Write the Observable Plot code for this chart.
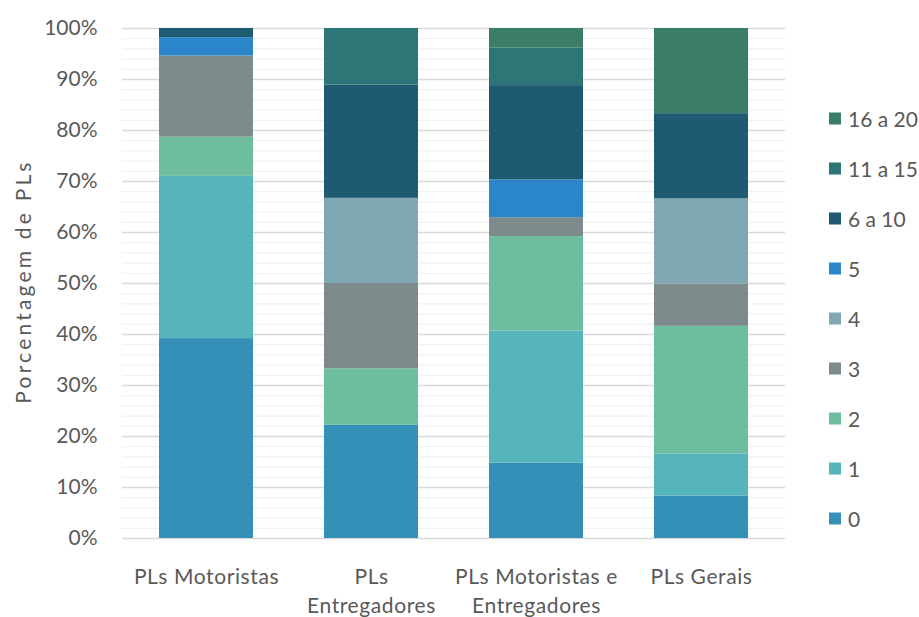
<!DOCTYPE html>
<html>
<head>
<meta charset="utf-8">
<script src="https://cdn.jsdelivr.net/npm/d3@7"></script>
<script src="https://cdn.jsdelivr.net/npm/@observablehq/plot@0.6"></script>
<style>
  body { margin: 0; background: #fff; }
  #wrap { position: relative; width: 919px; height: 617px; font-family: Lato, "Open Sans", sans-serif; }
  #legend { position: absolute; left: 829px; top: 0; }
  .item { position: absolute; left: 0; display: flex; align-items: center; white-space: nowrap; color: #595959; font-size: 21px; transform: translateY(-50%); }
  .sw { width: 12px; height: 12px; margin-right: 7px; }
  #wrap svg g[aria-label="text"] text { letter-spacing: 3.2px; }
  #wrap svg g[aria-label="x-axis tick label"] text { letter-spacing: 0.6px; }
</style>
</head>
<body>
<div id="wrap"><div id="legend"></div></div>
<script>
const categories = ["PLs Motoristas", "PLs Entregadores", "PLs Motoristas e Entregadores", "PLs Gerais"];
const tickLabels = ["PLs Motoristas", "PLs\nEntregadores", "PLs Motoristas e\nEntregadores", "PLs Gerais"];
const seriesNames = ["0", "1", "2", "3", "4", "5", "6 a 10", "11 a 15", "16 a 20"];
const seriesColors = ["#3590b8", "#56b4bd", "#6fbd9f", "#7e8b8c", "#80a8b3", "#2a86c8", "#1f5a73", "#2e7577", "#3c7d68"];
// percentage of PLs per category, in seriesNames order
const plsMotoristas = [39.2, 31.8, 7.7, 15.9, 0, 3.6, 1.8, 0, 0];
const plsEntregadores = [22.2, 0, 11.1, 16.7, 16.7, 0, 22.2, 11.1, 0];
const plsMotoristasEntregadores = [14.8, 25.9, 18.5, 3.7, 0, 7.4, 18.5, 7.4, 3.8];
const plsGerais = [8.3, 8.3, 25.0, 8.3, 16.7, 0, 16.7, 0, 16.7];
const yTicks = [0, 10, 20, 30, 40, 50, 60, 70, 80, 90, 100];
const yMinor = d3.range(0, 101, 2);
const yTitle = "Porcentagem de PLs";

const valuesByCat = [plsMotoristas, plsEntregadores, plsMotoristasEntregadores, plsGerais];
const table = [];
categories.forEach((c, i) => seriesNames.forEach((s, j) => table.push({cat: c, series: s, value: valuesByCat[i][j]})));

const chart = Plot.plot({
  width: 919,
  height: 617,
  marginLeft: 122,
  marginRight: 134,
  marginTop: 28,
  marginBottom: 79,
  style: {fontFamily: "Lato, 'Open Sans', sans-serif", fontSize: "21px", color: "#595959", background: "#fff"},
  x: {domain: categories, paddingInner: 0.43, paddingOuter: 0.215},
  y: {domain: [0, 100]},
  color: {domain: seriesNames, range: seriesColors},
  marks: [
    Plot.ruleY(yMinor, {stroke: "#eeeeee", strokeWidth: 1}),
    Plot.ruleY(yTicks, {stroke: "#d9d9d9", strokeWidth: 1.3}),
    Plot.barY(table, {x: "cat", y: "value", fill: "series", order: seriesNames}),
    Plot.axisY(yTicks, {tickSize: 0, tickPadding: 25, tickFormat: d => d + "%", label: null, fontSize: 21, fill: "#595959"}),
    Plot.axisX({tickSize: 0, tickPadding: 24, tickFormat: d => tickLabels[categories.indexOf(d)], label: null, fontSize: 21, lineHeight: 1.42, fill: "#595959"}),
    Plot.text([yTitle], {frameAnchor: "left", textAnchor: "middle", dx: -98, dy: -2, rotate: -90, fontSize: 21, fill: "#595959"})
  ]
});
document.getElementById("wrap").prepend(chart);

const legend = document.getElementById("legend");
const legendTop = 118, legendStep = 50;
seriesNames.slice().reverse().forEach((s, k) => {
  const idx = seriesNames.indexOf(s);
  const it = document.createElement("div");
  it.className = "item";
  it.style.top = (legendTop + k * legendStep) + "px";
  it.innerHTML = `<span class="sw" style="background:${seriesColors[idx]}"></span><span>${s}</span>`;
  legend.appendChild(it);
});
</script>
</body>
</html>
